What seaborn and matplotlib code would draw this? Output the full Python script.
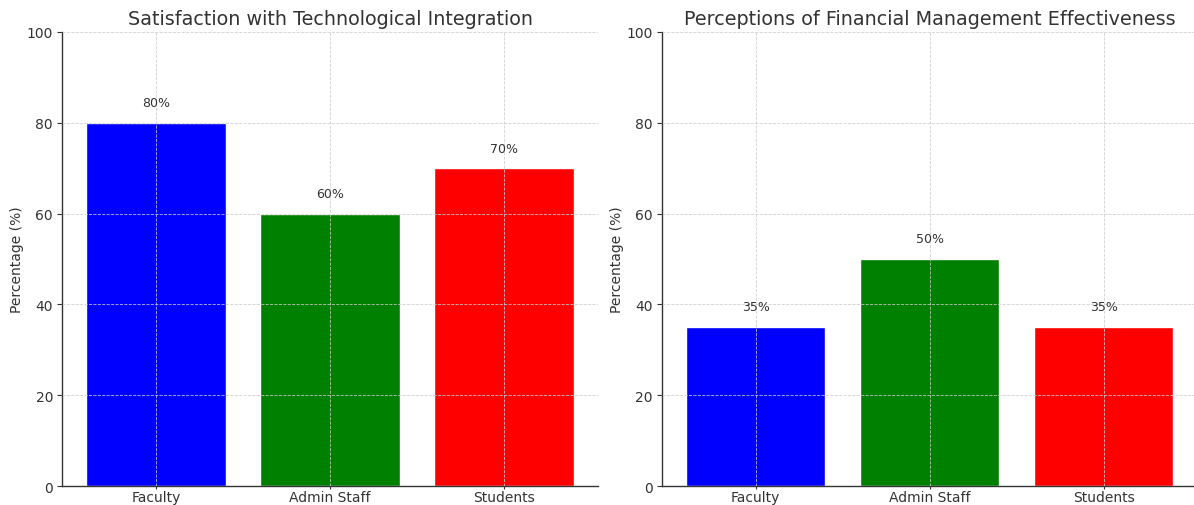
import matplotlib
matplotlib.use("Agg")
import matplotlib.pyplot as plt
import seaborn as sns
import pandas as pd

groups = ["Faculty", "Admin Staff", "Students"]
tech_satisfaction = [80, 60, 70]
finance_effectiveness = [35, 50, 35]
bar_colors = ["#0000ff", "#008000", "#ff0000"]
titles = ["Satisfaction with Technological Integration",
          "Perceptions of Financial Management Effectiveness"]

sns.set_style("ticks")
plt.rcParams["font.family"] = ["DejaVu Sans"]
text_color = "#333333"

fig, axes = plt.subplots(1, 2, figsize=(11.94, 5.06), dpi=100)
fig.subplots_adjust(left=0.052, right=1.003, bottom=0.0375, top=0.935, wspace=0.119)

for ax, values, title in zip(axes, [tech_satisfaction, finance_effectiveness], titles):
    df = pd.DataFrame({"group": groups, "value": values})
    sns.barplot(data=df, x="group", y="value", hue="group", palette=bar_colors,
                legend=False, width=0.8, saturation=1, ax=ax)
    ax.set_xlim(-0.54, 2.54)
    ax.set_ylim(0, 100)
    ax.set_yticks([0, 20, 40, 60, 80, 100])
    ax.set_title(title, fontsize=13.8, color=text_color, pad=6)
    ax.set_xlabel("")
    ax.set_ylabel("Percentage (%)", fontsize=10, color=text_color, labelpad=2)
    ax.tick_params(axis="y", labelsize=10, colors=text_color, length=3.5, pad=3)
    ax.tick_params(axis="x", labelsize=10, colors=text_color, length=2, pad=1)
    ax.grid(True, linestyle="--", linewidth=0.6, color="#cccccc", alpha=0.9)
    ax.set_axisbelow(False)
    for side in ("top", "right"):
        ax.spines[side].set_visible(False)
    for side in ("left", "bottom"):
        ax.spines[side].set_color(text_color)
        ax.spines[side].set_linewidth(1.0)
    for i, v in enumerate(values):
        ax.text(i, v + 3, f"{v}%", ha="center", va="bottom", fontsize=9, color=text_color)

fig.savefig("out.png", dpi=100)
